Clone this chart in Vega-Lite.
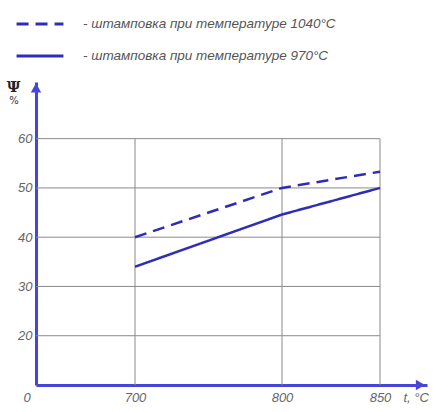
{
  "$schema": "https://vega.github.io/schema/vega-lite/v6.json",
  "width": 391,
  "height": 303,
  "autosize": {"type": "none"},
  "padding": {"left": 36, "top": 82, "right": 6, "bottom": 27},
  "background": "white",
  "config": {
    "view": {"stroke": null},
    "axis": {"grid": false, "ticks": false}
  },
  "datasets": {
    "curves": [
      {"t": 700, "psi": 40, "series": "- штамповка при температуре 1040°С"},
      {"t": 800, "psi": 50, "series": "- штамповка при температуре 1040°С"},
      {"t": 850, "psi": 53.3, "series": "- штамповка при температуре 1040°С"},
      {"t": 700, "psi": 34, "series": "- штамповка при температуре 970°С"},
      {"t": 800, "psi": 44.6, "series": "- штамповка при температуре 970°С"},
      {"t": 850, "psi": 50, "series": "- штамповка при температуре 970°С"}
    ],
    "hgrid": [{"g": 20}, {"g": 30}, {"g": 40}, {"g": 50}, {"g": 60}],
    "vgrid": [{"t": 700}, {"t": 800}, {"t": 850}]
  },
  "layer": [
    {
      "data": {"name": "hgrid"},
      "mark": {"type": "rule", "color": "#8a8a8a", "strokeWidth": 1},
      "encoding": {
        "y": {"field": "g", "type": "quantitative"},
        "x": {"datum": 650, "type": "quantitative"},
        "x2": {"datum": 850}
      }
    },
    {
      "data": {"name": "vgrid"},
      "mark": {"type": "rule", "color": "#8a8a8a", "strokeWidth": 1},
      "encoding": {
        "x": {"field": "t", "type": "quantitative"},
        "y": {"datum": 10, "type": "quantitative"},
        "y2": {"datum": 60}
      }
    },
    {
      "data": {"name": "curves"},
      "mark": {"type": "line", "color": "#2d2db5", "strokeWidth": 2.5},
      "encoding": {
        "x": {
          "field": "t", "type": "quantitative",
          "scale": {"domain": [650, 700, 800, 850, 900], "range": [0, 99, 246, 344, 391], "nice": false, "zero": false},
          "axis": {
            "values": [650, 700, 800, 850],
            "labelExpr": "datum.value == 650 ? '0' : datum.label",
            "labelOffset": {"expr": "datum.value == 650 ? -13 : 0"},
            "domainColor": "#4646d8",
            "domainWidth": 3,
            "labelPadding": 6,
            "labelFont": "Liberation Sans",
            "labelFontStyle": "italic",
            "labelFontSize": 13,
            "labelColor": "#666666",
            "title": "t, °C",
            "titleFont": "Liberation Sans",
            "titleFontStyle": "italic",
            "titleFontWeight": "normal",
            "titleFontSize": 13,
            "titleColor": "#666666",
            "titleAnchor": "start",
            "titleAlign": "left",
            "titleBaseline": "middle",
            "titleX": 367,
            "titleY": 12
          }
        },
        "y": {
          "field": "psi", "type": "quantitative",
          "scale": {"domain": [10, 71.5], "nice": false, "zero": false},
          "axis": {
            "values": [20, 30, 40, 50, 60],
            "domainColor": "#4646d8",
            "domainWidth": 3,
            "labelPadding": 4,
            "labelFont": "Liberation Sans",
            "labelFontStyle": "italic",
            "labelFontSize": 13,
            "labelColor": "#666666",
            "title": "Ψ",
            "titleFont": "DejaVu Serif",
            "titleFontWeight": "bold",
            "titleFontSize": 15,
            "titleColor": "#222222",
            "titleAngle": 0,
            "titleAlign": "center",
            "titleBaseline": "middle",
            "titleX": -23,
            "titleY": 4
          }
        },
        "strokeDash": {
          "field": "series", "type": "nominal",
          "scale": {
            "domain": ["- штамповка при температуре 1040°С", "- штамповка при температуре 970°С"],
            "range": [[12, 7], [1, 0]]
          },
          "legend": {
            "orient": "none",
            "legendX": -21,
            "legendY": -83,
            "title": null,
            "symbolType": "stroke",
            "symbolSize": 2200,
            "symbolStrokeWidth": 3,
            "symbolStrokeColor": "#2d2db5",
            "labelFont": "Liberation Sans",
            "labelFontStyle": "italic",
            "labelFontSize": 13.5,
            "labelColor": "#555555",
            "labelOffset": 18,
            "labelLimit": 400,
            "rowPadding": -11
          }
        }
      }
    },
    {
      "data": {"values": [{"unit": "%"}]},
      "mark": {"type": "text", "font": "DejaVu Sans", "fontSize": 10, "color": "#333333", "dx": -22, "align": "center", "baseline": "middle"},
      "encoding": {
        "text": {"field": "unit"},
        "x": {"datum": 650, "type": "quantitative"},
        "y": {"datum": 67.6, "type": "quantitative"}
      }
    },
    {
      "data": {"values": [{"a": "y"}]},
      "mark": {"type": "point", "shape": "triangle-up", "filled": true, "size": 110, "color": "#4646d8", "opacity": 1},
      "encoding": {
        "x": {"datum": 650, "type": "quantitative"},
        "y": {"datum": 70.3, "type": "quantitative"}
      }
    },
    {
      "data": {"values": [{"a": "x"}]},
      "mark": {"type": "point", "shape": "triangle-right", "filled": true, "size": 110, "color": "#4646d8", "opacity": 1},
      "encoding": {
        "x": {"datum": 893, "type": "quantitative"},
        "y": {"datum": 10, "type": "quantitative"}
      }
    }
  ]
}
